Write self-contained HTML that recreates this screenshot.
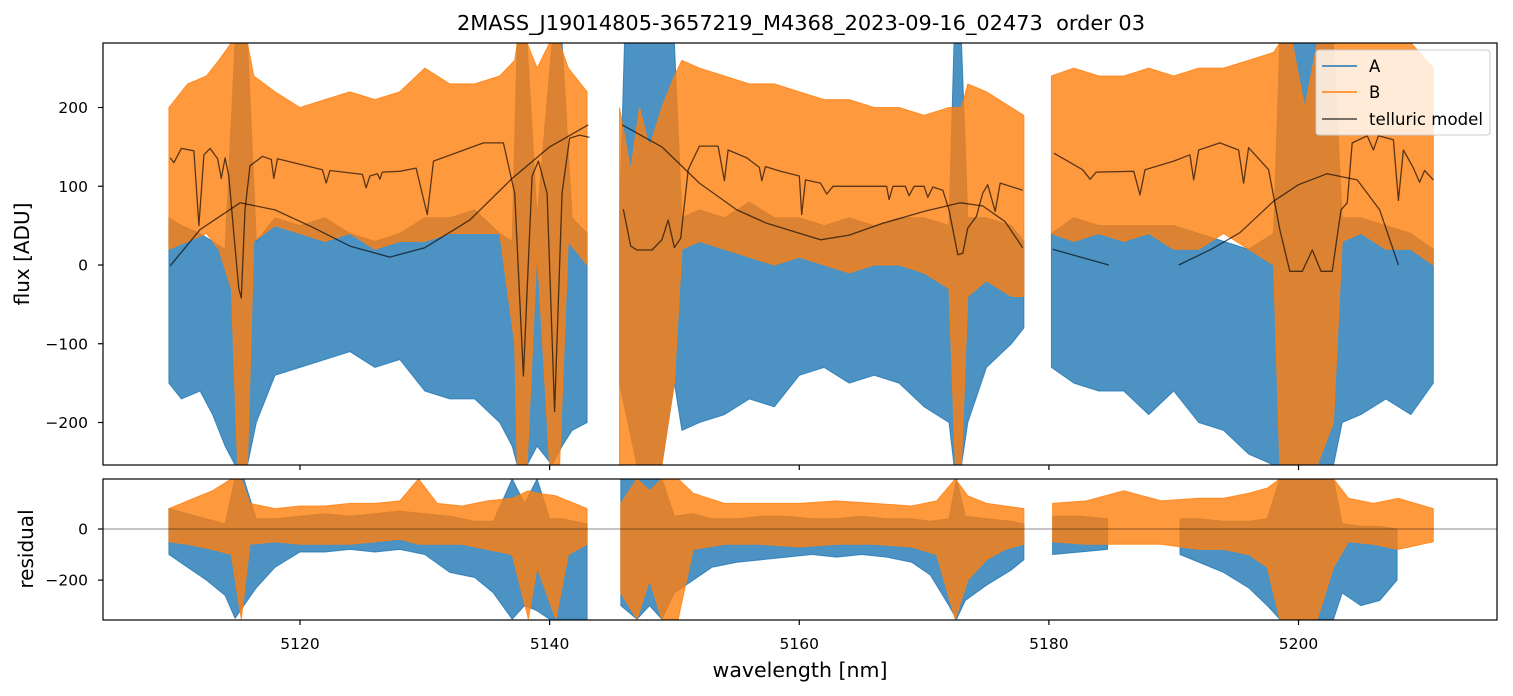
<!DOCTYPE html>
<html><head><meta charset="utf-8"><style>
html,body{margin:0;padding:0;background:#fff;}
svg{display:block;font-family:"DejaVu Sans","Liberation Sans",sans-serif;}
</style></head><body>
<svg id="chart" width="1513" height="696" viewBox="0 0 1513 696" xmlns="http://www.w3.org/2000/svg">
<defs>
<clipPath id="clipTop"><rect x="103" y="43" width="1394" height="422"/></clipPath>
<clipPath id="clipBot"><rect x="103" y="479" width="1394" height="141"/></clipPath>
</defs>
<rect x="0" y="0" width="1513" height="696" fill="#fff"/>
<text x="801" y="30" text-anchor="middle" font-size="20" textLength="688" lengthAdjust="spacingAndGlyphs" xml:space="preserve" fill="#000">2MASS_J19014805-3657219_M4368_2023-09-16_02473  order 03</text>
<g id="topMarks" clip-path="url(#clipTop)"></g>
<g id="botMarks" clip-path="url(#clipBot)"></g>
<g id="axes"></g>
<text transform="translate(29,254) rotate(-90)" text-anchor="middle" font-size="20">flux [ADU]</text>
<text transform="translate(33,549) rotate(-90)" text-anchor="middle" font-size="20">residual</text>
<text x="800" y="677" text-anchor="middle" font-size="20.5">wavelength [nm]</text>
<g>
<rect x="1316" y="50" width="174" height="85" rx="3" fill="#fff" fill-opacity="0.8" stroke="#ccc" stroke-width="1"/>
<line x1="1322" y1="66" x2="1357" y2="66" stroke="#1f77b4" stroke-width="1.5"/>
<text x="1369" y="72" font-size="16.5">A</text>
<line x1="1322" y1="92" x2="1357" y2="92" stroke="#ff7f0e" stroke-width="1.5"/>
<text x="1369" y="98" font-size="16.5">B</text>
<line x1="1322" y1="119" x2="1357" y2="119" stroke="#000" stroke-opacity="0.7" stroke-width="1.5"/>
<text x="1369" y="125" font-size="16.5" textLength="114" lengthAdjust="spacingAndGlyphs">telluric model</text>
</g>
</svg>
<script>
// ---------- data ----------
const xTicks = [5120, 5140, 5160, 5180, 5200];
const yTicksTop = [-200, -100, 0, 100, 200];
const yTicksBot = [-200, 0];

// flux A band (null = gap)
const aWl = [5109.5,5110.5,5112,5113,5114,5114.8,5115.8,5116.5,5118,5120,5122,5124,5126,5128,5130,5132,5134,5136,5137,5137.4,5138.2,5139,5140.2,5141,5141.8,5143,null,
 5145.6,5146,5147,5148,5149,5150,5150.6,5152,5154,5156,5158,5160,5162,5164,5166,5168,5170,5172,5172.4,5173,5173.5,5175,5177,5178,null,
 5180.2,5182,5184,5186,5188,5190,5192,5194,5196,5198,5198.5,5202.8,5203.5,5205,5207,5209,5210.8];
const aHi = [60,50,40,30,20,282,282,30,60,50,60,40,30,40,60,60,70,40,30,282,282,60,282,282,60,40,null,
 60,282,282,282,282,282,60,70,60,80,60,60,50,60,50,60,60,50,282,282,60,60,50,30,null,
 40,60,50,50,50,50,40,30,20,40,282,282,60,60,50,40,20];
const aLo = [-150,-170,-160,-190,-230,-254,-254,-200,-140,-130,-120,-110,-130,-120,-160,-170,-170,-200,-230,-254,-254,-230,-254,-230,-210,-200,null,
 -150,-180,-254,-254,-254,-150,-210,-200,-190,-170,-180,-140,-130,-150,-140,-150,-180,-200,-254,-254,-200,-130,-100,-80,null,
 -130,-150,-160,-160,-190,-160,-200,-210,-240,-254,-254,-254,-200,-190,-170,-190,-150];

// flux B band
const bWl = [5109.5,5111,5112.5,5113.5,5114.5,5115,5115.8,5116.3,5118,5120,5122,5124,5126,5128,5130,5132,5134,5136,5137.2,5137.4,5138.2,5139,5140,5140.8,5141.5,5143,null,
 5145.6,5146.5,5147.2,5148,5149,5150,5150.6,5152,5154,5156,5158,5160,5162,5164,5166,5168,5170,5172,5172.5,5173,5173.5,5175,5177,5178,null,
 5180.2,5182,5184,5186,5188,5190,5192,5194,5196,5198,5198.5,5199.5,5200.5,5201.5,5202.8,5203.5,5205,5207,5209,5210.8];
const bHi = [200,230,240,260,282,282,282,240,220,200,210,220,210,220,250,230,230,240,260,282,282,250,282,282,250,220,null,
 200,120,200,150,200,240,260,250,240,230,230,220,210,210,200,200,190,200,200,200,230,220,200,190,null,
 240,250,240,240,250,240,250,250,260,270,282,282,200,282,282,282,282,282,282,250];
const bLo = [20,30,40,20,-30,-254,-254,30,50,40,30,40,20,30,30,40,40,40,-100,-254,-254,20,-254,-254,30,0,null,
 -254,-254,-254,-254,-254,-150,20,30,20,10,0,10,0,-10,0,0,-10,-30,-254,-254,-40,-20,-40,-40,null,
 40,30,40,30,40,20,20,40,20,0,-254,-254,-254,-254,-200,30,40,20,20,0];

// residual A band
const raWl = [5109.5,5111,5112.5,5114,5114.8,5115.5,5116.5,5118,5120,5122,5124,5126,5128,5130,5132,5134,5135.5,5137,5138,5139,5140,5141,5143,null,
 5145.7,5147,5148,5149,5150,5151.5,5153,5155,5157,5159,5161,5163,5165,5167,5169,5170.5,5172,5172.6,5173.3,5175,5177,5178,null,
 5180.3,5182.5,5184.7,null,
 5190.5,5192,5194,5196,5197.5,5198.5,5202.8,5203.5,5205,5206.5,5207.9];
const raHi = [80,60,40,20,200,196,40,40,50,60,50,60,70,60,50,30,30,196,100,196,40,40,20,null,
 196,196,196,196,50,60,40,40,50,50,40,40,50,40,40,30,40,196,50,40,30,20,null,
 50,50,40,null,
 40,40,30,30,40,196,196,20,10,10,0];
const raLo = [-100,-150,-200,-260,-350,-300,-230,-150,-90,-90,-80,-90,-80,-100,-170,-190,-250,-353,-300,-320,-353,-353,-353,null,
 -300,-353,-300,-353,-250,-200,-150,-130,-120,-110,-100,-110,-100,-110,-130,-180,-300,-353,-280,-220,-160,-120,null,
 -100,-90,-80,null,
 -100,-130,-170,-230,-300,-353,-353,-250,-300,-280,-200];

// residual B band
const rbWl = [5109.5,5111,5113,5114.5,5115.3,5116,5118,5120,5122,5124,5126,5128,5129.5,5131,5133,5135,5137,5138.3,5139,5140.5,5141.5,5143,null,
 5145.7,5147,5148,5149,5150.3,5151.5,5154,5157,5160,5163,5166,5169,5171,5172.5,5173.5,5175,5176.5,5178,null,
 5180.3,5183,5186,5189,5192,5194,5196,5197.5,5198.5,5200,5201.5,5202.8,5204,5206,5208,5210.8];
const rbHi = [80,110,150,196,196,100,80,90,90,100,100,110,196,100,90,110,120,150,140,130,110,80,null,
 100,196,150,196,196,140,100,100,100,110,100,90,110,196,130,100,90,80,null,
 100,110,150,110,120,120,140,160,196,196,196,196,120,100,120,80];
const rbLo = [-50,-60,-80,-100,-353,-60,-50,-60,-60,-60,-50,-40,-60,-60,-60,-80,-100,-353,-150,-353,-100,-60,null,
 -250,-353,-200,-353,-353,-80,-60,-60,-70,-60,-60,-70,-100,-353,-200,-120,-80,-60,null,
 -50,-60,-60,-60,-80,-80,-100,-150,-353,-353,-353,-150,-50,-60,-80,-50];

// smooth telluric-model curve
const smWl = [5109.6,5112,5115.2,5118,5121,5124,5127.2,5130,5133.6,5137,5140,5143.1,null,
 5145.8,5149,5152,5155,5157.4,5161.7,5164,5166.7,5170,5172.9,5174.7,5176.5,5177.9,null,
 5180.3,5184.8,null,5190.4,5193,5195.3,5198,5200,5202.3,5204.7,5206.5,5208];
const smVal = [-1,45,79,70,48,24,10,22,57,110,150,178,null,
 178,150,104,70,53,32,38,53,68,79,75,55,22,null,
 20,0,null,0,20,41,81,102,116,108,70,0];

// telluric line model
const tlWl = [5109.6,5109.9,5110.5,5111.5,5111.9,5112.3,5112.8,5113.4,5113.7,5114,5114.3,5114.7,5115.1,5115.3,5115.6,5116,5117,5117.7,5117.9,5118.2,5121.8,5122.1,5122.4,5125,5125.3,5125.6,5126.2,5126.4,5126.6,5128,5129.3,5130.2,5130.7,5134.7,5136.3,5137.2,5137.9,5138.6,5139.1,5139.8,5140.4,5141,5141.6,5142.4,5143.2,null,
 5145.9,5146.5,5147,5148.2,5149,5149.5,5150,5150.5,5151.1,5152,5153.5,5154,5154.3,5155.8,5156.8,5157,5157.3,5158.5,5160,5160.2,5160.5,5161.7,5162.2,5162.7,5164.3,5167,5167.2,5167.5,5168.5,5168.8,5169.2,5170,5170.3,5170.7,5171.5,5172,5172.7,5173.1,5173.5,5174.2,5174.7,5175.1,5175.7,5176.1,5177.9,null,
 5180.4,5182.7,5183.3,5183.8,5186.8,5187.3,5187.7,5190,5191.3,5191.6,5192,5193.7,5195.2,5195.6,5196,5197.6,5198.5,5199.3,5200.3,5201.1,5201.8,5202.7,5203.4,5203.9,5204.3,5205.5,5206,5206.4,5207.6,5208,5208.4,5209.2,5209.7,5210.1,5210.8];
const tlVal = [136,130,148,145,50,140,148,135,110,136,113,40,-30,-42,70,126,138,134,110,135,121,104,120,115,98,113,116,109,118,119,123,64,132,155,155,91,-141,113,132,91,-186,92,161,165,162,null,
 71,24,19,19,32,57,22,34,121,151,151,107,146,136,124,107,125,119,113,64,108,104,90,100,100,100,83,100,100,88,100,100,86,99,95,70,13,15,47,62,91,102,68,104,95,null,
 142,121,109,118,119,89,121,132,140,108,146,155,146,104,149,121,45,-8,-8,19,-8,-8,70,79,155,164,146,164,159,82,146,123,105,120,108];

// ---------- axes functions ----------
const X0 = 5104.22, X1 = 5215.9, PX0 = 103, PX1 = 1497;
const sx = v => PX0 + (v - X0) / (X1 - X0) * (PX1 - PX0);
const syTop = v => 265 - v * 0.7875;
const syBot = v => 529 - v * 0.2555;
const NS = 'http://www.w3.org/2000/svg';
const topG = document.getElementById('topMarks');
const botG = document.getElementById('botMarks');
const axG = document.getElementById('axes');

function segments(wl, a, b) {
  const segs = []; let cur = [];
  for (let i = 0; i < wl.length; i++) {
    if (wl[i] === null) { if (cur.length) segs.push(cur); cur = []; }
    else cur.push(b ? [wl[i], a[i], b[i]] : [wl[i], a[i]]);
  }
  if (cur.length) segs.push(cur);
  return segs;
}
function band(g, wl, hi, lo, sy, color, name) {
  segments(wl, hi, lo).forEach(s => {
    const pts = s.map(p => sx(p[0]).toFixed(1) + ',' + sy(p[1]).toFixed(1))
      .concat(s.slice().reverse().map(p => sx(p[0]).toFixed(1) + ',' + sy(p[2]).toFixed(1)));
    const el = document.createElementNS(NS, 'polygon');
    el.setAttribute('points', pts.join(' '));
    el.setAttribute('fill', color);
    el.setAttribute('fill-opacity', '0.8');
    el.setAttribute('stroke', color);
    el.setAttribute('stroke-opacity', '0.8');
    el.setAttribute('stroke-width', '1');
    el.setAttribute('stroke-linejoin', 'bevel');
    
    
    g.appendChild(el);
  });
}
function curve(g, wl, val, sy, name) {
  segments(wl, val).forEach(s => {
    const el = document.createElementNS(NS, 'polyline');
    el.setAttribute('points', s.map(p => sx(p[0]).toFixed(1) + ',' + sy(p[1]).toFixed(1)).join(' '));
    el.setAttribute('fill', 'none');
    el.setAttribute('stroke', '#000');
    el.setAttribute('stroke-opacity', '0.65');
    el.setAttribute('stroke-width', '1.3');
    el.setAttribute('stroke-linejoin', 'round');
    
    
    g.appendChild(el);
  });
}
function line(g, x1, y1, x2, y2, w, name, op) {
  const el = document.createElementNS(NS, 'line');
  el.setAttribute('x1', x1); el.setAttribute('y1', y1);
  el.setAttribute('x2', x2); el.setAttribute('y2', y2);
  el.setAttribute('stroke', '#000');
  el.setAttribute('stroke-width', w);
  if (op) el.setAttribute('stroke-opacity', op);
  
  
  g.appendChild(el);
}
function text(g, x, y, str, anchor, name) {
  const el = document.createElementNS(NS, 'text');
  el.setAttribute('x', x); el.setAttribute('y', y);
  el.setAttribute('text-anchor', anchor);
  el.setAttribute('font-size', '15.5');
  el.textContent = str;
  
  
  g.appendChild(el);
}

// ---------- marks ----------
band(topG, aWl, aHi, aLo, syTop, '#1f77b4', 'flux-a-series');
band(topG, bWl, bHi, bLo, syTop, '#ff7f0e', 'flux-b-series');
curve(topG, smWl, smVal, syTop, 'telluric-smooth-curve');
curve(topG, tlWl, tlVal, syTop, 'telluric-model-curve');
band(botG, raWl, raHi, raLo, syBot, '#1f77b4', 'residual-a-series');
band(botG, rbWl, rbHi, rbLo, syBot, '#ff7f0e', 'residual-b-series');
line(botG, 103, syBot(0), 1497, syBot(0), 0.8, 'residual-zero-line', '0.6');

// ---------- frames & ticks ----------
const fr1 = document.createElementNS(NS, 'rect');
fr1.setAttribute('x', 103); fr1.setAttribute('y', 43); fr1.setAttribute('width', 1394); fr1.setAttribute('height', 422);
fr1.setAttribute('fill', 'none'); fr1.setAttribute('stroke', '#000'); fr1.setAttribute('stroke-width', '1.2');


axG.appendChild(fr1);
const fr2 = document.createElementNS(NS, 'rect');
fr2.setAttribute('x', 103); fr2.setAttribute('y', 479); fr2.setAttribute('width', 1394); fr2.setAttribute('height', 141);
fr2.setAttribute('fill', 'none'); fr2.setAttribute('stroke', '#000'); fr2.setAttribute('stroke-width', '1.2');


axG.appendChild(fr2);

xTicks.forEach(t => {
  const x = sx(t);
  line(axG, x, 465, x, 470, 1.2, 'x-tick-top-panel');
  line(axG, x, 620, x, 625, 1.2, 'x-tick');
  text(axG, x, 649, String(t), 'middle', 'x-tick-label');
});
yTicksTop.forEach(t => {
  const y = syTop(t);
  line(axG, 98, y, 103, y, 1.2, 'y-tick-flux');
  text(axG, 88, y + 5.5, String(t).replace('-', '\u2212'), 'end', 'y-tick-label-flux');
});
yTicksBot.forEach(t => {
  const y = syBot(t);
  line(axG, 98, y, 103, y, 1.2, 'y-tick-residual');
  text(axG, 88, y + 5.5, String(t).replace('-', '\u2212'), 'end', 'y-tick-label-residual');
});
</script>
</body></html>
